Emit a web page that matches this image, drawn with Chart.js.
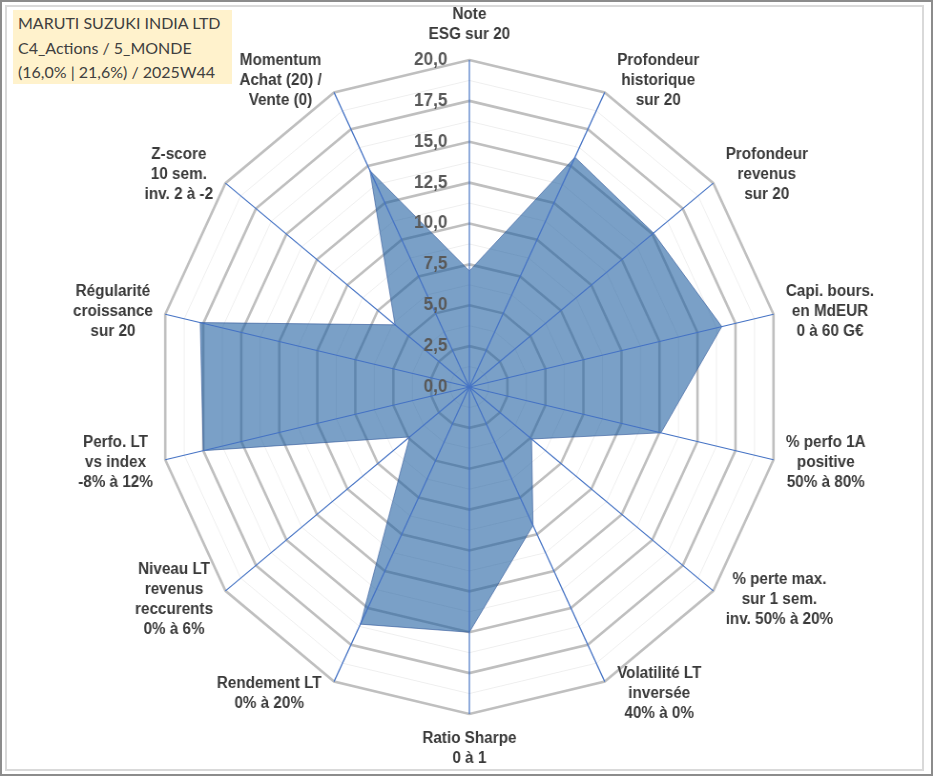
<!DOCTYPE html>
<html>
<head>
<meta charset="utf-8">
<title>Radar MARUTI SUZUKI</title>
<script src="https://cdn.jsdelivr.net/npm/chart.js@4.4.1/dist/chart.umd.min.js"></script>
<style>
  body { margin: 0; background: #fff; }
  #wrap { position: relative; width: 933px; height: 776px; overflow: hidden; background: #fff; }
  #radar { position: absolute; left: 0; top: 0; }
  .frame-out { position: absolute; left: 0; top: 0; width: 929px; height: 772px; border: 2px solid #8c8c8c; pointer-events: none; }
  .frame-in { position: absolute; left: 5px; top: 5px; width: 915px; height: 762px; border: 2px solid #d9d9d9; pointer-events: none; }
  #title {
    position: absolute; left: 13px; top: 10px; width: 214px; height: 73px;
    padding: 1px 0 0 5px; background: #fff2cc; color: #404040;
    font-family: Lato, "Open Sans", sans-serif; font-size: 16px; line-height: 24.5px;
    white-space: nowrap;
  }
</style>
</head>
<body>
<div id="wrap">
  <canvas id="radar" width="978" height="776" style="width:933px;height:776px"></canvas>
  <div class="frame-out"></div>
  <div class="frame-in"></div>
  <div id="title">MARUTI SUZUKI INDIA LTD<br>C4_Actions / 5_MONDE<br>(16,0% | 21,6%) / 2025W44</div>
</div>
<script>
// axes du radar (une ligne par retour à la ligne du libellé)
const categories = [
  ['Note', 'ESG sur 20'],
  ['Profondeur', 'historique', 'sur 20'],
  ['Profondeur', 'revenus', 'sur 20'],
  ['Capi. bours.', 'en MdEUR', '0 à 60 G€'],
  ['% perfo 1A', 'positive', '50% à 80%'],
  ['% perte max.', 'sur 1 sem.', 'inv. 50% à 20%'],
  ['Volatilité LT', 'inversée', '40% à 0%'],
  ['Ratio Sharpe', '0 à 1'],
  ['Rendement LT', '0% à 20%'],
  ['Niveau LT', 'revenus', 'reccurents', '0% à 6%'],
  ['Perfo. LT', 'vs index', '-8% à 12%'],
  ['Régularité', 'croissance', 'sur 20'],
  ['Z-score', '10 sem.', 'inv. 2 à -2'],
  ['Momentum', 'Achat (20) /', 'Vente (0)']
];

// notes sur 20
const scores = [7.1, 15.6, 15.1, 16.6, 12.6, 5.1, 9.4, 15.0, 16.1, 4.9, 17.5, 17.7, 6.1, 14.7];

// graduations affichées
const tickValues = [0, 2.5, 5, 7.5, 10, 12.5, 15, 17.5, 20];
const tickLabels = ['0,0', '2,5', '5,0', '7,5', '10,0', '12,5', '15,0', '17,5', '20,0'];

const isMajor = v => tickValues.includes(v);

// rayons bleus au-dessus du remplissage + libellés façon Excel
const excelLabels = {
  id: 'excelLabels',
  afterDatasetsDraw(chart) {
    const r = chart.scales.r;
    const ctx = chart.ctx;
    ctx.save();

    ctx.strokeStyle = '#4472c4';
    ctx.lineWidth = 1.2;
    categories.forEach((_, i) => {
      const p = r.getPointPosition(i, r.drawingArea);
      ctx.beginPath();
      ctx.moveTo(r.xCenter, r.yCenter);
      ctx.lineTo(p.x, p.y);
      ctx.stroke();
    });

    ctx.font = 'bold 18px "Liberation Sans", Arial, sans-serif';
    ctx.fillStyle = '#595959';
    ctx.textAlign = 'right';
    ctx.textBaseline = 'middle';
    tickValues.forEach((v, k) => {
      const d = r.getDistanceFromCenterForValue(v);
      ctx.fillText(tickLabels[k], r.xCenter - 23, r.yCenter - d);
    });

    ctx.font = 'bold 16px "Liberation Sans", Arial, sans-serif';
    ctx.fillStyle = '#3a3a3a';
    ctx.textAlign = 'center';
    const lh = 20;
    categories.forEach((lines, i) => {
      const a = r.getIndexAngle(i);
      const s = Math.sin(a), c = Math.cos(a);
      const v = r.getPointPosition(i, r.drawingArea);
      const w = Math.max(...lines.map(t => ctx.measureText(t).width));
      const h = lines.length * lh;
      let cx, cy;
      if (Math.abs(s) < 0.01) {
        cx = v.x;
        cy = v.y - Math.sign(c) * (h / 2 + 15);
      } else {
        cx = v.x + Math.sign(s) * (w / 2 + 13);
        cy = v.y - 13.5 * c;
      }
      lines.forEach((t, k) => ctx.fillText(t, cx, cy - h / 2 + lh / 2 + k * lh));
    });

    ctx.restore();
  }
};

new Chart(document.getElementById('radar'), {
  type: 'radar',
  data: {
    labels: categories,
    datasets: [{
      data: scores,
      backgroundColor: 'rgba(33,97,162,0.6)',
      borderColor: 'rgba(47,85,151,0.6)',
      borderWidth: 1,
      pointRadius: 0,
      fill: true
    }]
  },
  options: {
    responsive: false,
    animation: false,
    layout: { padding: { left: 165, right: 159, top: 60, bottom: 62 } },
    elements: { line: { tension: 0 } },
    plugins: { legend: { display: false }, tooltip: { enabled: false } },
    scales: {
      r: {
        min: 0,
        max: 20,
        ticks: { display: false, stepSize: 1.25 },
        pointLabels: { display: false },
        angleLines: { display: false },
        grid: {
          color: ctx => isMajor(ctx.tick.value) ? '#bfbfbf' : '#efefef',
          lineWidth: ctx => isMajor(ctx.tick.value) ? 2.6 : 1
        }
      }
    }
  },
  plugins: [excelLabels]
});
</script>
</body>
</html>
